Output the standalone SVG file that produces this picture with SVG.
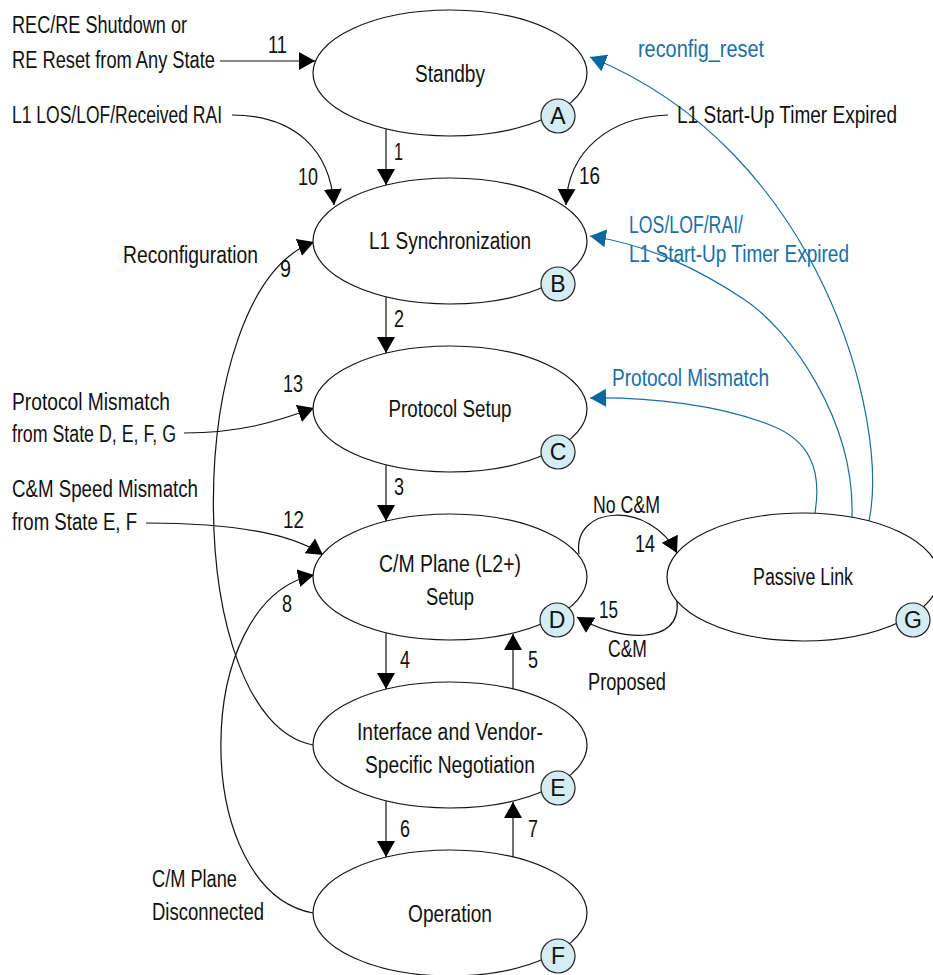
<svg xmlns="http://www.w3.org/2000/svg" width="933" height="975" viewBox="0 0 933 975">
<style>
text{font-family:"Liberation Sans Narrow","Liberation Sans",Arial,sans-serif;font-size:23px;fill:#111}
.blue{fill:#1a6ea6}
.mid{text-anchor:middle}
.state{fill:#fff;stroke:#111;stroke-width:1.2}
.badge{fill:#d5ecf3;stroke:#222;stroke-width:1.2}
.conn{fill:none;stroke:#111;stroke-width:1.2}
.bconn{fill:none;stroke:#1a6ea6;stroke-width:1.2}
</style>
<defs>
<marker id="ah" viewBox="0 0 16 18" refX="16" refY="9" markerWidth="16" markerHeight="18" markerUnits="userSpaceOnUse" orient="auto"><path d="M0,0 L16,9 L0,18 z" fill="#000"/></marker>
<marker id="bh" viewBox="0 0 16 18" refX="16" refY="9" markerWidth="16" markerHeight="18" markerUnits="userSpaceOnUse" orient="auto"><path d="M0,0 L16,9 L0,18 z" fill="#0a679f"/></marker>
</defs>

<g id="connectors">
<path class="conn" d="M220 61 L315 61" marker-end="url(#ah)"/>
<path class="conn" d="M232 115 C295 115 330 150 334 205" marker-end="url(#ah)"/>
<path class="conn" d="M668 115 C610 117 568 150 566 205" marker-end="url(#ah)"/>
<path class="conn" d="M386 129 L386 185" marker-end="url(#ah)"/>
<path class="conn" d="M386 297 L386 353" marker-end="url(#ah)"/>
<path class="conn" d="M386 465 L386 521" marker-end="url(#ah)"/>
<path class="conn" d="M386 633 L386 689" marker-end="url(#ah)"/>
<path class="conn" d="M386 801 L386 857" marker-end="url(#ah)"/>
<path class="conn" d="M513 689 L513 634" marker-end="url(#ah)"/>
<path class="conn" d="M513 857 L513 802" marker-end="url(#ah)"/>
<path class="conn" d="M313 745 C180 720 180 290 314 242" marker-end="url(#ah)"/>
<path class="conn" d="M313 913 C190 890 190 600 314 575" marker-end="url(#ah)"/>
<path class="conn" d="M184 433 C240 433 275 422 314 408" marker-end="url(#ah)"/>
<path class="conn" d="M146 523 C230 523 290 532 323 555" marker-end="url(#ah)"/>
<path class="conn" d="M579 554 C572 505 650 500 677 553" marker-end="url(#ah)"/>
<path class="conn" d="M677 601 C682 648 615 640 577 617" marker-end="url(#ah)"/>
<path class="bconn" d="M869 521 C890 420 820 150 590 57" marker-end="url(#bh)"/>
<path class="bconn" d="M852 517 C855 420 790 330 745 300 C700 270 650 245 590 236" marker-end="url(#bh)"/>
<path class="bconn" d="M815 513 C822 470 810 440 770 425 C720 405 650 397 590 398" marker-end="url(#bh)"/>
</g>

<g id="standby">
<ellipse class="state" cx="450" cy="73" rx="137" ry="63"/>
<text class="mid" x="450" y="82" textLength="70" lengthAdjust="spacingAndGlyphs">Standby</text>
<circle class="badge" cx="558" cy="116" r="17"/>
<text class="mid" x="558" y="124">A</text>
</g>
<g id="l1sync">
<ellipse class="state" cx="450" cy="241" rx="137" ry="63"/>
<text class="mid" x="450" y="249" textLength="162" lengthAdjust="spacingAndGlyphs">L1 Synchronization</text>
<circle class="badge" cx="558" cy="284" r="17"/>
<text class="mid" x="558" y="292">B</text>
</g>
<g id="protocol">
<ellipse class="state" cx="450" cy="409" rx="137" ry="63"/>
<text class="mid" x="450" y="417" textLength="123" lengthAdjust="spacingAndGlyphs">Protocol Setup</text>
<circle class="badge" cx="558" cy="452" r="17"/>
<text class="mid" x="558" y="460">C</text>
</g>
<g id="cmplane">
<ellipse class="state" cx="450" cy="577" rx="137" ry="63"/>
<text class="mid" x="450" y="572" textLength="142" lengthAdjust="spacingAndGlyphs">C/M Plane (L2+)</text>
<text class="mid" x="450" y="605" textLength="48" lengthAdjust="spacingAndGlyphs">Setup</text>
<circle class="badge" cx="557" cy="620" r="17"/>
<text class="mid" x="557" y="628">D</text>
</g>
<g id="interface">
<ellipse class="state" cx="450" cy="745" rx="137" ry="63"/>
<text class="mid" x="450" y="740" textLength="186" lengthAdjust="spacingAndGlyphs">Interface and Vendor-</text>
<text class="mid" x="450" y="773" textLength="170" lengthAdjust="spacingAndGlyphs">Specific Negotiation</text>
<circle class="badge" cx="558" cy="788" r="17"/>
<text class="mid" x="558" y="796">E</text>
</g>
<g id="operation">
<ellipse class="state" cx="450" cy="913" rx="137" ry="63"/>
<text class="mid" x="450" y="922" textLength="84" lengthAdjust="spacingAndGlyphs">Operation</text>
<circle class="badge" cx="558" cy="956" r="17"/>
<text class="mid" x="558" y="964">F</text>
</g>
<g id="passive">
<ellipse class="state" cx="803" cy="577" rx="136" ry="64"/>
<text class="mid" x="803" y="585" textLength="100" lengthAdjust="spacingAndGlyphs">Passive Link</text>
<circle class="badge" cx="913" cy="620" r="17"/>
<text class="mid" x="913" y="628">G</text>
</g>

<g id="labels">
<text x="12" y="33" textLength="175" lengthAdjust="spacingAndGlyphs">REC/RE Shutdown or</text>
<text x="12" y="68" textLength="203" lengthAdjust="spacingAndGlyphs">RE Reset from Any State</text>
<text x="12" y="123" textLength="210" lengthAdjust="spacingAndGlyphs">L1 LOS/LOF/Received RAI</text>
<text x="123" y="263" textLength="135" lengthAdjust="spacingAndGlyphs">Reconfiguration</text>
<text x="12" y="410" textLength="158" lengthAdjust="spacingAndGlyphs">Protocol Mismatch</text>
<text x="12" y="442" textLength="164" lengthAdjust="spacingAndGlyphs">from State D, E, F, G</text>
<text x="12" y="497" textLength="186" lengthAdjust="spacingAndGlyphs">C&amp;M Speed Mismatch</text>
<text x="12" y="530" textLength="125" lengthAdjust="spacingAndGlyphs">from State E, F</text>
<text x="152" y="887" textLength="85" lengthAdjust="spacingAndGlyphs">C/M Plane</text>
<text x="152" y="920" textLength="112" lengthAdjust="spacingAndGlyphs">Disconnected</text>
<text x="677" y="123" textLength="220" lengthAdjust="spacingAndGlyphs">L1 Start-Up Timer Expired</text>
<text class="mid" x="626.5" y="513" textLength="67" lengthAdjust="spacingAndGlyphs">No C&amp;M</text>
<text class="mid" x="627.5" y="657" textLength="39" lengthAdjust="spacingAndGlyphs">C&amp;M</text>
<text class="mid" x="627" y="690" textLength="78" lengthAdjust="spacingAndGlyphs">Proposed</text>
<text class="blue" x="638" y="57" textLength="126" lengthAdjust="spacingAndGlyphs">reconfig_reset</text>
<text class="blue" x="629" y="233" textLength="114" lengthAdjust="spacingAndGlyphs">LOS/LOF/RAI/</text>
<text class="blue" x="629" y="262" textLength="220" lengthAdjust="spacingAndGlyphs">L1 Start-Up Timer Expired</text>
<text class="blue" x="612" y="386" textLength="157" lengthAdjust="spacingAndGlyphs">Protocol Mismatch</text>
<text x="268" y="53" textLength="19" lengthAdjust="spacingAndGlyphs">11</text>
<text x="298" y="185" textLength="20" lengthAdjust="spacingAndGlyphs">10</text>
<text x="280" y="277" textLength="11" lengthAdjust="spacingAndGlyphs">9</text>
<text x="283" y="392" textLength="20" lengthAdjust="spacingAndGlyphs">13</text>
<text x="283" y="528" textLength="21" lengthAdjust="spacingAndGlyphs">12</text>
<text x="282" y="612" textLength="10" lengthAdjust="spacingAndGlyphs">8</text>
<text x="394" y="160" textLength="9" lengthAdjust="spacingAndGlyphs">1</text>
<text x="579" y="184" textLength="21" lengthAdjust="spacingAndGlyphs">16</text>
<text x="394" y="327" textLength="10" lengthAdjust="spacingAndGlyphs">2</text>
<text x="394" y="495" textLength="10" lengthAdjust="spacingAndGlyphs">3</text>
<text x="400" y="668" textLength="10" lengthAdjust="spacingAndGlyphs">4</text>
<text x="528" y="668" textLength="10" lengthAdjust="spacingAndGlyphs">5</text>
<text x="400" y="837" textLength="10" lengthAdjust="spacingAndGlyphs">6</text>
<text x="528" y="837" textLength="10" lengthAdjust="spacingAndGlyphs">7</text>
<text x="635" y="552" textLength="20" lengthAdjust="spacingAndGlyphs">14</text>
<text x="599" y="618" textLength="19" lengthAdjust="spacingAndGlyphs">15</text>
</g>
</svg>
